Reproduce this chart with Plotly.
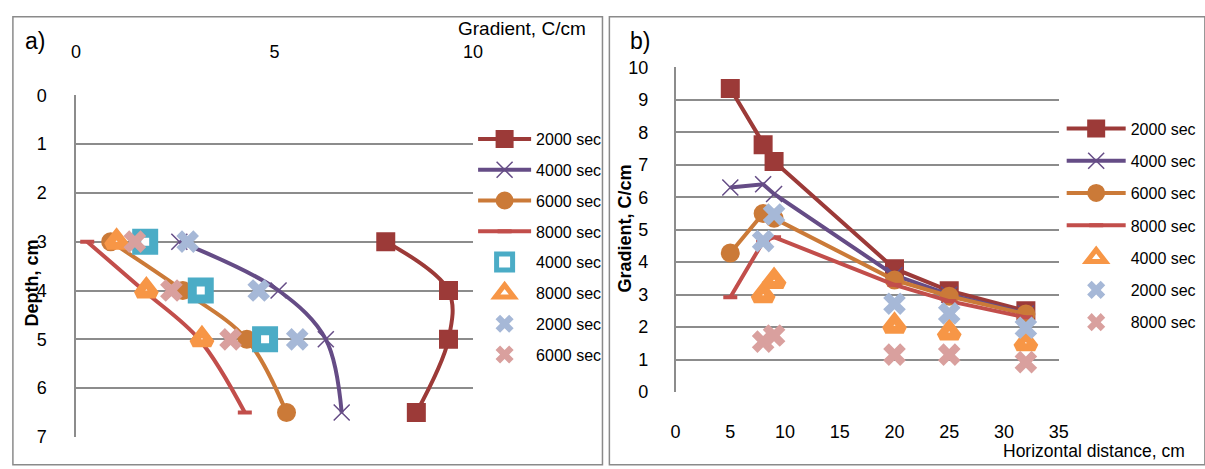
import plotly.graph_objects as go

W, H = 1205, 469

# ---------------- Panel a data (gradient C/cm vs depth cm) ----------------
a_depth_line = [3, 4, 5, 6.5]
a_grad_2000 = [7.8, 9.38, 9.38, 8.57]
a_grad_4000 = [2.6, 5.1, 6.29, 6.69]
a_grad_6000 = [0.87, 2.69, 4.3, 5.3]
a_grad_8000 = [0.28, 1.7, 3.1, 4.25]

a_depth_pts = [3, 4, 5]
a_pts_4000 = [1.74, 3.14, 4.76]
a_pts_8000 = [1.02, 1.77, 3.17]
a_pts_2000 = [2.81, 4.6, 5.57]
a_pts_6000 = [1.48, 2.4, 3.89]

# ---------------- Panel b data (gradient vs horizontal distance) ----------------
b_dist_line = [5, 8, 9, 20, 25, 32]
b_grad_2000 = [9.35, 7.62, 7.1, 3.8, 3.12, 2.5]
b_grad_4000 = [6.3, 6.4, 6.1, 3.6, 3.0, 2.42]
b_grad_6000 = [4.28, 5.5, 5.35, 3.45, 2.95, 2.4]
b_grad_8000 = [2.92, 4.63, 4.77, 3.3, 2.8, 2.3]

b_dist_pts = [8, 9, 20, 25, 32]
b_pts_4000 = [2.98, 3.42, 2.04, 1.83, 1.5]
b_pts_2000 = [4.65, 5.47, 2.72, 2.42, 1.98]
b_pts_8000 = [1.55, 1.74, 1.15, 1.15, 0.92]

a_xticks = [0, 5, 10]
a_yticks = [0, 1, 2, 3, 4, 5, 6, 7]
b_xticks = [0, 5, 10, 15, 20, 25, 30, 35]
b_yticks = list(range(0, 11))

C2000 = '#9C3A38'
C4000 = '#654C86'
C6000 = '#CB7A38'
C8000 = '#C24E4B'
TEAL = '#4BACC6'
ORNG = '#F79646'
LBLUE = '#A6B8D7'
PINK = '#D9A09E'
GRID = '#8C8C8C'

FONT = 'Liberation Sans, Arial, sans-serif'

fig = go.Figure()


def line_trace(x, y, name, color, sym, msize, mline, ax, leg, grp, shape):
    mk = dict(symbol=sym, size=msize, color=color,
              line=dict(color=color, width=mline))
    return go.Scatter(x=x, y=y, name=name, mode='lines+markers',
                      line=dict(color=color, width=4, shape=shape, smoothing=1),
                      marker=mk, xaxis=ax[0], yaxis=ax[1], legend=leg,
                      legendgroup=grp)


def pts_trace(x, y, name, kind, ax, leg, grp):
    if kind == 'sq':
        mk = dict(symbol='square', size=17, color='white', line=dict(color=TEAL, width=9))
    elif kind == 'tri':
        mk = dict(symbol='triangle-up', size=16, color='white', line=dict(color=ORNG, width=8))
    elif kind == 'xb':
        mk = dict(symbol='x', size=20, color=LBLUE, line=dict(width=0))
    else:
        mk = dict(symbol='x', size=20, color=PINK, line=dict(width=0))
    return go.Scatter(x=x, y=y, name=name, mode='markers', marker=mk,
                      xaxis=ax[0], yaxis=ax[1], legend=leg, legendgroup=grp)


A = ('x', 'y')
B = ('x2', 'y2')

# panel a: gradient on x, depth on y
fig.add_trace(line_trace(a_grad_2000, a_depth_line, '2000 sec', C2000, 'square', 17, 2, A, 'legend', 'a1', 'spline'))
fig.add_trace(line_trace(a_grad_4000, a_depth_line, '4000 sec', C4000, 'x-thin-open', 16, 1.5, A, 'legend', 'a2', 'spline'))
fig.add_trace(line_trace(a_grad_6000, a_depth_line, '6000 sec', C6000, 'circle', 17, 2, A, 'legend', 'a3', 'spline'))
fig.add_trace(line_trace(a_grad_8000, a_depth_line, '8000 sec', C8000, 'line-ew', 10, 4, A, 'legend', 'a4', 'spline'))
fig.add_trace(pts_trace(a_pts_4000, a_depth_pts, '4000 sec', 'sq', A, 'legend', 'a5'))
fig.add_trace(pts_trace(a_pts_8000, a_depth_pts, '8000 sec', 'tri', A, 'legend', 'a6'))
fig.add_trace(pts_trace(a_pts_2000, a_depth_pts, '2000 sec', 'xb', A, 'legend', 'a7'))
fig.add_trace(pts_trace(a_pts_6000, a_depth_pts, '6000 sec', 'xp', A, 'legend', 'a8'))

# panel b
fig.add_trace(line_trace(b_dist_line, b_grad_2000, '2000 sec', C2000, 'square', 17, 2, B, 'legend2', 'b1', 'linear'))
fig.add_trace(line_trace(b_dist_line, b_grad_4000, '4000 sec', C4000, 'x-thin-open', 16, 1.5, B, 'legend2', 'b2', 'linear'))
fig.add_trace(line_trace(b_dist_line, b_grad_6000, '6000 sec', C6000, 'circle', 17, 2, B, 'legend2', 'b3', 'linear'))
fig.add_trace(line_trace(b_dist_line, b_grad_8000, '8000 sec', C8000, 'line-ew', 10, 4, B, 'legend2', 'b4', 'linear'))
fig.add_trace(pts_trace(b_dist_pts, b_pts_4000, '4000 sec', 'tri', B, 'legend2', 'b5'))
fig.add_trace(pts_trace(b_dist_pts, b_pts_2000, '2000 sec', 'xb', B, 'legend2', 'b6'))
fig.add_trace(pts_trace(b_dist_pts, b_pts_8000, '8000 sec', 'xp', B, 'legend2', 'b7'))


def px(x):
    return x / W


def py(y):
    return 1 - y / H


tickfont = dict(family=FONT, size=18, color='black')

fig.update_layout(
    width=W, height=H, margin=dict(l=0, r=0, t=0, b=0),
    paper_bgcolor='white', plot_bgcolor='white',
    font=dict(family=FONT, color='black'),
    xaxis=dict(domain=[px(72), px(474)], range=[0, 10], side='top', anchor='y',
               tickvals=a_xticks, showgrid=False, zeroline=False, showline=False,
               ticks='', tickfont=tickfont, ticklabelstandoff=33),
    yaxis=dict(domain=[py(446), py(89)], range=[7, 0], anchor='x',
               tickvals=a_yticks, showgrid=True, gridcolor=GRID, gridwidth=1.5,
               zeroline=False, showline=True, linecolor=GRID, linewidth=1.5,
               ticks='', tickfont=tickfont, ticklabelstandoff=24),
    xaxis2=dict(domain=[px(679), px(1067)], range=[0, 35], anchor='y2',
                tickvals=b_xticks, showgrid=False, zeroline=False, showline=False,
                ticks='', tickfont=tickfont, ticklabelstandoff=27),
    yaxis2=dict(domain=[py(399), py(60)], range=[0, 10], anchor='x2',
                tickvals=b_yticks, showgrid=True, gridcolor=GRID, gridwidth=1.5,
                zeroline=False, showline=True, linecolor=GRID, linewidth=1.5,
                ticks='', tickfont=tickfont, ticklabelstandoff=22),
    legend=dict(x=px(474), y=py(117), xanchor='left', yanchor='top',
                font=dict(family=FONT, size=16), traceorder='grouped',
                tracegroupgap=7, bgcolor='rgba(0,0,0,0)', itemwidth=53),
    legend2=dict(x=px(1070), y=py(106), xanchor='left', yanchor='top',
                 font=dict(family=FONT, size=16), traceorder='grouped',
                 tracegroupgap=8.5, bgcolor='rgba(0,0,0,0)', itemwidth=59),
    showlegend=True,
)

# panel borders
fig.add_shape(type='rect', xref='paper', yref='paper', x0=px(8), x1=px(605),
              y0=py(475), y1=py(7), line=dict(color='#8A8A8A', width=1.5), layer='below')
fig.add_shape(type='rect', xref='paper', yref='paper', x0=px(612), x1=px(1215),
              y0=py(475), y1=py(7), line=dict(color='#8A8A8A', width=1.5), layer='below')

# texts
fig.add_annotation(text='a)', x=px(18), y=py(32), xref='paper', yref='paper',
                   xanchor='left', yanchor='middle', showarrow=False,
                   font=dict(family=FONT, size=23))
fig.add_annotation(text='b)', x=px(631), y=py(32), xref='paper', yref='paper',
                   xanchor='left', yanchor='middle', showarrow=False,
                   font=dict(family=FONT, size=23))
fig.add_annotation(text='Gradient, C/cm', x=px(590), y=py(19), xref='paper', yref='paper',
                   xanchor='right', yanchor='middle', showarrow=False,
                   font=dict(family=FONT, size=19))
fig.add_annotation(text='<b>Depth, cm</b>', x=px(27), y=py(285), xref='paper', yref='paper',
                   xanchor='center', yanchor='middle', showarrow=False, textangle=-90,
                   font=dict(family=FONT, size=18))
fig.add_annotation(text='<b>Gradient, C/cm</b>', x=px(628), y=py(228), xref='paper', yref='paper',
                   xanchor='center', yanchor='middle', showarrow=False, textangle=-90,
                   font=dict(family=FONT, size=18))
fig.add_annotation(text='Horizontal distance, cm', x=px(1197), y=py(461), xref='paper', yref='paper',
                   xanchor='right', yanchor='middle', showarrow=False,
                   font=dict(family=FONT, size=17.5))

fig.write_html('out.html')
